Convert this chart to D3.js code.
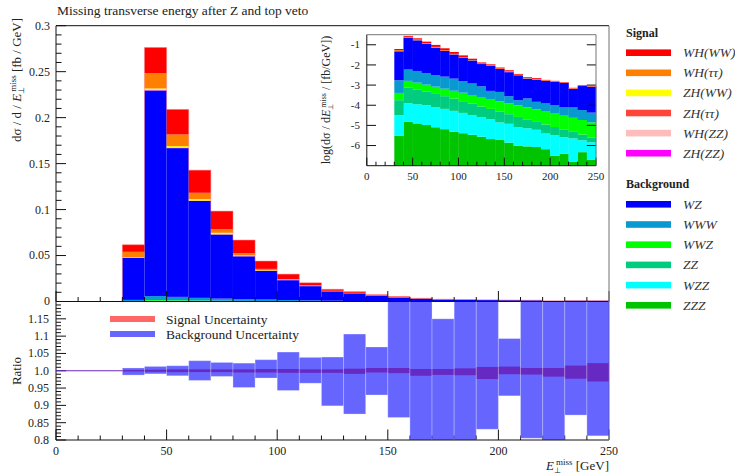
<!DOCTYPE html>
<html><head><meta charset="utf-8">
<script src="https://cdn.jsdelivr.net/npm/d3@7"></script>
<style>body{margin:0;background:#fff}</style>
</head><body>
<script>
// lower bin edges, 10 GeV bins
const binLow = [30,40,50,60,70,80,90,100,110,120,130,140,150,160,170,180,190,200,210,220,230,240];

// backgrounds (fb/GeV)
const zzz = [3.0e-6,1.51e-5,1.26e-5,1.05e-5,8.1e-6,6.5e-6,4.9e-6,4.1e-6,3.4e-6,2.75e-6,2.1e-6,1.9e-6,1.4e-6,9.8e-7,9.1e-7,8.5e-7,6.6e-7,3.1e-7,3.9e-7,1.6e-7,4.7e-7,1.95e-7];
const wzz = [2.94e-5,1.11e-4,9.9e-5,8.95e-5,7.1e-5,5.95e-5,4.76e-5,3.76e-5,2.82e-5,2.24e-5,1.79e-5,1.22e-5,1.06e-5,7.3e-6,6.3e-6,5.2e-6,3.3e-6,3.0e-6,2.2e-6,2.1e-6,1.35e-6,1.25e-6];
const zz  = [1.46e-4,6.3e-4,4.9e-4,3.8e-4,2.84e-4,2.16e-4,1.61e-4,1.17e-4,8.9e-5,6.2e-5,4.6e-5,3.4e-5,2.4e-5,1.8e-5,1.28e-5,8.8e-6,7.2e-6,5.0e-6,3.7e-6,2.5e-6,1.7e-6,1.05e-6];
const wwz = [2.3e-4,8.6e-4,7.2e-4,5.7e-4,4.7e-4,3.8e-4,3.1e-4,2.6e-4,2.0e-4,1.7e-4,1.38e-4,1.1e-4,9.0e-5,7.2e-5,5.8e-5,4.7e-5,3.7e-5,3.0e-5,2.4e-5,1.9e-5,1.5e-5,1.16e-5];
const www = [1.33e-3,4.3e-3,3.7e-3,2.9e-3,2.3e-3,1.97e-3,1.57e-3,1.16e-3,8.8e-4,6.1e-4,3.1e-4,3.0e-4,1.55e-4,8.0e-5,1.4e-4,8.6e-5,7.5e-5,6.4e-5,4.8e-5,5.4e-5,3.9e-5,2.9e-5];
const wz  = [0.0456,0.2236,0.1618,0.1055,0.0697,0.0465,0.0312,0.0216,0.0155,0.0102,0.0084,0.0058,0.0041,0.0029,0.0019,0.00175,0.00148,0.00135,0.0012,0.00056,0.00084,0.00078];

// signals (fb/GeV)
const zhZZ  = [1e-4,3e-4,2e-4,1e-4,1e-4,1e-4,1e-4,1e-4,5e-5,3e-5,3e-5,2e-5,2e-5,1e-5,1e-5,1e-5,1e-5,1e-5,1e-5,5e-6,5e-6,5e-6];
const whZZ  = [1e-4,2e-4,2e-4,1e-4,1e-4,1e-4,1e-4,1e-4,5e-5,3e-5,3e-5,2e-5,2e-5,1e-5,1e-5,1e-5,1e-5,1e-5,1e-5,5e-6,5e-6,5e-6];
const zhTT  = [2e-4,2e-4,3e-4,2e-4,2e-4,1e-4,1e-4,1e-4,5e-5,5e-5,4e-5,3e-5,2e-5,2e-5,1e-5,1e-5,1e-5,1e-5,1e-5,5e-6,5e-6,5e-6];
const zhWW  = [3e-4,1.5e-3,1.5e-3,1.5e-3,1.5e-3,6e-4,4e-4,2e-4,2e-4,1e-4,1e-4,1e-4,1e-4,5e-5,4e-5,3e-5,2e-5,1e-5,1e-5,1e-5,1e-5,1e-5];
const whTT  = [0.006,0.0167,0.0127,0.0069,0.004,0.0025,0.0015,6e-4,5e-4,4e-4,3e-4,2e-4,2e-4,1e-4,1e-4,5e-5,4e-5,3e-5,2e-5,2e-5,2e-5,2e-5];
const whWW  = [0.0077,0.0279,0.0272,0.0246,0.0196,0.0143,0.0085,0.0055,0.0028,0.0016,0.0013,8e-4,7e-4,3e-4,2e-4,2e-4,1.2e-4,1e-4,8e-5,5e-5,7e-5,5e-5];

// ratio bands
const sigLo = [0.998,0.997,0.996,0.996,0.996,0.995,0.995,0.994,0.994,0.994,0.991,0.995,0.993,0.9855,0.988,0.987,0.976,0.99,0.989,0.983,0.977,0.969];
const sigHi = [1.002,1.003,1.004,1.004,1.004,1.004,1.005,1.005,1.004,1.004,1.006,1.008,1.008,1.005,1.005,1.007,1.011,1.012,1.008,1.008,1.015,1.022];
const bgLo  = [0.9875,0.991,0.9855,0.972,0.9836,0.9517,0.979,0.943,0.964,0.8986,0.875,0.93,0.865,0.7,0.7,0.7,0.831,0.9275,0.805,0.7,0.872,0.812];
const bgHi  = [1.008,1.0125,1.0145,1.029,1.024,1.022,1.032,1.054,1.0386,1.0396,1.106,1.0686,1.3,1.3,1.15,1.3,1.3,1.093,1.3,1.3,1.3,1.3];

const mainTicks = [0,0.05,0.1,0.15,0.2,0.25,0.3];
const mainTickLabels = ["0","0.05","0.1","0.15","0.2","0.25","0.3"];
const ratioTicks = [0.8,0.85,0.9,0.95,1.0,1.05,1.1,1.15];
const ratioTickLabels = ["0.8","0.85","0.9","0.95","1.0","1.05","1.1","1.15"];
const xTicks = [0,50,100,150,200,250];
const insetYTicks = [-1,-2,-3,-4,-5,-6];

const series = [
  {key:"ZZZ", vals:zzz, color:"#00c400", label:"ZZZ"},
  {key:"WZZ", vals:wzz, color:"#00ffff", label:"WZZ"},
  {key:"ZZ", vals:zz, color:"#00cc80", label:"ZZ"},
  {key:"WWZ", vals:wwz, color:"#00ff00", label:"WWZ"},
  {key:"WWW", vals:www, color:"#0799cf", label:"WWW"},
  {key:"WZ", vals:wz, color:"#0000ff", label:"WZ"},
  {key:"ZHZZ", vals:zhZZ, color:"#ff00ff", label:"ZH(ZZ)"},
  {key:"WHZZ", vals:whZZ, color:"#ffbcbc", label:"WH(ZZ)"},
  {key:"ZHTT", vals:zhTT, color:"#ff4538", label:"ZH(ττ)"},
  {key:"ZHWW", vals:zhWW, color:"#ffff00", label:"ZH(WW)"},
  {key:"WHTT", vals:whTT, color:"#ff8000", label:"WH(ττ)"},
  {key:"WHWW", vals:whWW, color:"#ff0000", label:"WH(WW)"}
];

const rows = binLow.map((b,i) => {
  const r = {x:b};
  series.forEach(s => r[s.key] = s.vals[i]);
  return r;
});
const stacked = d3.stack().keys(series.map(s => s.key))(rows);

const svg = d3.select("body").append("svg").attr("width",735).attr("height",473)
  .attr("font-family","'Liberation Serif','Times New Roman',Times,serif");

const x = d3.scaleLinear().domain([0,250]).range([56,609]);
const y = d3.scaleLinear().domain([0,0.3]).range([301.5,25.7]);
const yr = d3.scaleLinear().domain([0.8,1.2]).range([440,301.5]);

// title
svg.append("text").attr("x",57).attr("y",15).attr("font-size",13.5).attr("fill","#222")
  .text("Missing transverse energy after Z and top veto");

// main stack
const layers = svg.append("g").selectAll("g").data(stacked).enter().append("g")
  .attr("fill",(d,i) => series[i].color);
layers.selectAll("rect").data(d => d).enter().append("rect")
  .attr("x",d => x(d.data.x))
  .attr("width",d => x(d.data.x+10)-x(d.data.x))
  .attr("y",d => y(d[1]))
  .attr("height",d => Math.max(0,y(d[0])-y(d[1])));

// light step outline along the top of the stack
const topLayer = stacked[stacked.length-1];
let outline = "M" + x(binLow[0]) + "," + y(0);
rows.forEach((d,i) => { outline += "V" + y(topLayer[i][1]) + "H" + x(d.x+10); });
outline += "V" + y(0);
svg.append("path").attr("d",outline).attr("fill","none")
  .attr("stroke","rgba(255,120,120,0.6)").attr("stroke-width",0.8);

// main axes
const ax = svg.append("g").attr("stroke","#111").attr("stroke-width",1);
ax.append("line").attr("x1",56).attr("x2",609).attr("y1",25.7).attr("y2",25.7);
ax.append("line").attr("x1",56).attr("x2",56).attr("y1",25.7).attr("y2",440);
ax.append("line").attr("x1",56).attr("x2",609).attr("y1",301.5).attr("y2",301.5);
ax.append("line").attr("x1",56).attr("x2",609).attr("y1",440).attr("y2",440);
svg.append("line").attr("x1",609).attr("x2",609).attr("y1",25.7).attr("y2",440)
  .attr("stroke","#888").attr("stroke-width",1.2);

d3.range(0,0.3001,0.01).forEach((v,i) => {
  const major = i % 5 == 0;
  ax.append("line").attr("x1",56).attr("x2",56+(major?10:5.5)).attr("y1",y(v)).attr("y2",y(v));
});
mainTicks.forEach((v,i) => {
  svg.append("text").attr("x",50).attr("y",y(v)).attr("dy","0.33em").attr("text-anchor","end")
    .attr("font-size",12).attr("fill","#222").text(mainTickLabels[i]);
});
d3.range(0,251,10).forEach(v => {
  const major = v % 50 == 0;
  ax.append("line").attr("x1",x(v)).attr("x2",x(v)).attr("y1",301.5).attr("y2",301.5-(major?10.5:4.5));
  ax.append("line").attr("x1",x(v)).attr("x2",x(v)).attr("y1",440).attr("y2",440-(major?10.5:4.5));
});

// ratio panel
svg.append("clipPath").attr("id","rc").append("rect")
  .attr("x",56).attr("y",301.5).attr("width",553).attr("height",138.5);
const rg = svg.append("g").attr("clip-path","url(#rc)");
rg.selectAll(".sig").data(binLow).enter().append("rect")
  .attr("x",d => x(d)).attr("width",d => x(d+10)-x(d))
  .attr("y",(d,i) => yr(sigHi[i])).attr("height",(d,i) => yr(sigLo[i])-yr(sigHi[i]))
  .attr("fill","rgba(255,0,0,0.6)");
rg.selectAll(".bg").data(binLow).enter().append("rect")
  .attr("x",d => x(d)).attr("width",d => x(d+10)-x(d))
  .attr("y",(d,i) => yr(bgHi[i])).attr("height",(d,i) => yr(bgLo[i])-yr(bgHi[i]))
  .attr("fill","rgba(0,0,255,0.6)").attr("stroke","rgba(255,255,255,0.25)").attr("stroke-width",1);
rg.append("line").attr("x1",x(0)).attr("x2",x(30)).attr("y1",yr(1)).attr("y2",yr(1))
  .attr("stroke","#6629c2").attr("stroke-width",1);

d3.range(0.8,1.2001,0.01).forEach((v,i) => {
  const major = i % 5 == 0;
  ax.append("line").attr("x1",56).attr("x2",56+(major?10:5)).attr("y1",yr(v)).attr("y2",yr(v));
});
ratioTicks.forEach((v,i) => {
  svg.append("text").attr("x",49).attr("y",yr(v)).attr("dy","0.33em").attr("text-anchor","end")
    .attr("font-size",12).attr("fill","#222").text(ratioTickLabels[i]);
});
xTicks.forEach(v => {
  svg.append("text").attr("x",x(v)).attr("y",455).attr("text-anchor","middle")
    .attr("font-size",12).attr("fill","#222").text(v);
});

// ratio legend
svg.append("rect").attr("x",110).attr("y",316).attr("width",45).attr("height",6).attr("fill","#ff6666");
svg.append("rect").attr("x",110).attr("y",331).attr("width",45).attr("height",6).attr("fill","#6666ff");
svg.append("text").attr("x",166).attr("y",323.5).attr("font-size",13.5).attr("fill","#222").text("Signal Uncertainty");
svg.append("text").attr("x",166).attr("y",338.5).attr("font-size",13.5).attr("fill","#222").text("Background Uncertainty");

// axis labels
const yl = svg.append("text").attr("transform","translate(21,80) rotate(-90)")
  .attr("text-anchor","middle").attr("font-size",13).attr("fill","#222");
yl.append("tspan").text("dσ / d / ");
yl.append("tspan").attr("font-style","italic").text("E");
yl.append("tspan").attr("font-size",8).attr("dy",3).text("⊥");
yl.append("tspan").attr("font-size",9).attr("dx",-5).attr("dy",-8).text("miss");
yl.append("tspan").attr("dy",5).text(" [fb / GeV]");

svg.append("text").attr("transform","translate(21,371) rotate(-90)")
  .attr("text-anchor","middle").attr("font-size",13).attr("fill","#222").text("Ratio");

const xl = svg.append("text").attr("x",609).attr("y",469.5).attr("text-anchor","end")
  .attr("font-size",13).attr("fill","#222");
xl.append("tspan").attr("font-style","italic").text("E");
xl.append("tspan").attr("font-size",8).attr("dy",3).text("⊥");
xl.append("tspan").attr("font-size",9).attr("dx",-5).attr("dy",-7.5).text("miss");
xl.append("tspan").attr("dy",4.5).text(" [GeV]");

// inset (log scale of stacked values)
const xi = d3.scaleLinear().domain([0,250]).range([366.8,596]);
const yi = d3.scaleLinear().domain([-7,-0.5]).range([165.7,34.7]);
const lg = v => v > 0 ? Math.max(-7, Math.log10(v)) : -7;
const inset = svg.append("g");
inset.append("rect").attr("x",366.8).attr("y",34.7).attr("width",229.2).attr("height",131).attr("fill","#fff");
const il = inset.append("g").selectAll("g").data(stacked).enter().append("g")
  .attr("fill",(d,i) => series[i].color);
il.selectAll("rect").data(d => d).enter().append("rect")
  .attr("x",d => xi(d.data.x))
  .attr("width",d => xi(d.data.x+10)-xi(d.data.x)+0.3)
  .attr("y",d => yi(lg(d[1])))
  .attr("height",d => Math.max(0,yi(lg(d[0]))-yi(lg(d[1]))));

const ia = inset.append("g").attr("stroke","#111");
ia.append("line").attr("x1",366.8).attr("x2",596).attr("y1",165.7).attr("y2",165.7);
ia.append("line").attr("x1",366.8).attr("x2",366.8).attr("y1",34.7).attr("y2",165.7);
inset.append("line").attr("x1",366.8).attr("x2",596).attr("y1",34.7).attr("y2",34.7).attr("stroke","#777");
inset.append("line").attr("x1",596).attr("x2",596).attr("y1",34.7).attr("y2",165.7).attr("stroke","#777");
insetYTicks.forEach(v => {
  ia.append("line").attr("x1",366.8).attr("x2",376).attr("y1",yi(v)).attr("y2",yi(v));
  ia.append("line").attr("x1",586.8).attr("x2",596).attr("y1",yi(v)).attr("y2",yi(v));
  inset.append("text").attr("x",360).attr("y",yi(v)).attr("dy","0.33em").attr("text-anchor","end")
    .attr("font-size",11).attr("fill","#222").text(v);
});
d3.range(0,251,10).forEach(v => {
  const major = v % 50 == 0;
  ia.append("line").attr("x1",xi(v)).attr("x2",xi(v)).attr("y1",165.7).attr("y2",165.7-(major?8:4));
});
xTicks.forEach(v => {
  inset.append("text").attr("x",xi(v)).attr("y",180).attr("text-anchor","middle")
    .attr("font-size",11).attr("fill","#222").text(v);
});
const il2 = inset.append("text").attr("transform","translate(330,100) rotate(-90)")
  .attr("text-anchor","middle").attr("font-size",12).attr("fill","#222");
il2.append("tspan").text("log(dσ / d");
il2.append("tspan").attr("font-style","italic").text("E");
il2.append("tspan").attr("font-size",7).attr("dy",3).text("⊥");
il2.append("tspan").attr("font-size",8).attr("dx",-4).attr("dy",-7).text("miss");
il2.append("tspan").attr("dy",4).text(" / [fb/GeV])");

// legend
const leg = svg.append("g");
leg.append("text").attr("x",626).attr("y",36.5).attr("font-size",12).attr("font-weight","bold")
  .attr("fill","#222").text("Signal");
leg.append("text").attr("x",626).attr("y",188).attr("font-size",12).attr("font-weight","bold")
  .attr("fill","#222").text("Background");
const sigOrder = ["WHWW","WHTT","ZHWW","ZHTT","WHZZ","ZHZZ"];
const bgOrder = ["WZ","WWW","WWZ","ZZ","WZZ","ZZZ"];
function legRow(key, cy) {
  const s = series.find(d => d.key == key);
  leg.append("rect").attr("x",626).attr("y",cy-3.3).attr("width",45).attr("height",6.6).attr("fill",s.color);
  leg.append("text").attr("x",683).attr("y",cy+4.5).attr("font-size",13.5).attr("font-style","italic")
    .attr("fill","#333").text(s.label);
}
sigOrder.forEach((k,i) => legRow(k, 52.7 + i*20.1));
bgOrder.forEach((k,i) => legRow(k, 204.3 + i*20.2));
</script>
</body></html>
